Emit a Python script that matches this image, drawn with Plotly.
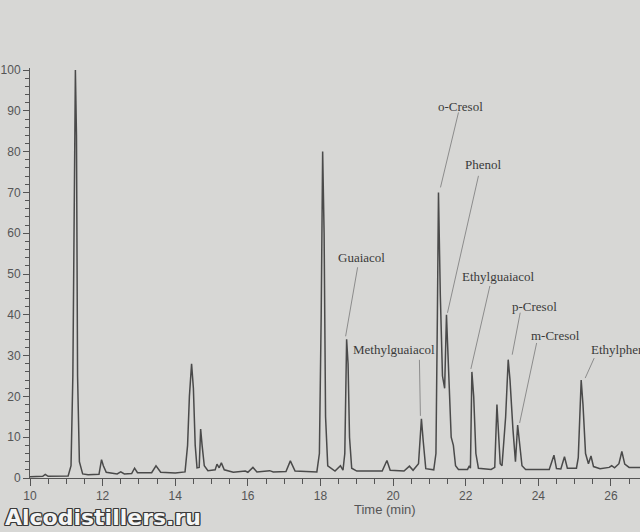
import plotly.graph_objects as go

# ---- data ----
time_min = [10.0, 10.35, 10.42, 10.5, 11.05, 11.13, 11.18, 11.22, 11.25, 11.28, 11.31, 11.36, 11.45, 11.6,
            11.9, 11.97, 12.02, 12.1, 12.4, 12.5, 12.6, 12.8, 12.88, 12.96, 13.35, 13.47, 13.6, 14.0,
            14.27, 14.34, 14.39, 14.45, 14.5, 14.55, 14.6, 14.66, 14.7, 14.74, 14.8, 14.9, 15.1, 15.15,
            15.21, 15.27, 15.35, 15.6, 15.93, 16.0, 16.14, 16.25, 16.6, 16.7, 17.05, 17.17, 17.3, 17.9,
            17.97, 18.02, 18.06, 18.1, 18.14, 18.2, 18.4, 18.55, 18.62, 18.67, 18.72, 18.76, 18.8, 18.86,
            19.0, 19.7, 19.83, 19.92, 20.3, 20.45, 20.55, 20.7, 20.78, 20.83, 20.9, 21.12, 21.18, 21.22,
            21.25, 21.3, 21.36, 21.42, 21.47, 21.5, 21.55, 21.6, 21.66, 21.72, 21.8, 22.05, 22.1, 22.13,
            22.17, 22.22, 22.28, 22.35, 22.7, 22.8, 22.86, 22.9, 22.95, 23.0, 23.1, 23.17, 23.22, 23.3,
            23.37, 23.43, 23.48, 23.55, 23.65, 24.3, 24.43, 24.5, 24.62, 24.72, 24.8, 25.05, 25.1, 25.18,
            25.23, 25.3, 25.38, 25.45, 25.52, 25.7, 25.95, 26.02, 26.1, 26.22, 26.3, 26.38, 26.5, 26.8]
signal = [0.3, 0.4, 0.9, 0.4, 0.5, 3, 25, 65, 100, 84, 25, 4, 1.0, 0.8,
          0.9, 4.5, 3.0, 1.4, 1.0, 1.5, 1.0, 1.1, 2.4, 1.3, 1.3, 3.0, 1.4, 1.2,
          1.5, 8, 20, 28, 22, 8, 2.5, 2.6, 12, 8, 3, 1.8, 2.0, 3.4,
          2.5, 3.7, 2.0, 1.4, 1.7, 1.4, 2.6, 1.5, 1.8, 1.5, 1.6, 4.2, 1.7, 1.5,
          6, 40, 80, 60, 15, 3, 1.7, 3.0, 1.9, 6, 34, 28, 10, 2.4,
          1.7, 1.7, 4.3, 1.9, 1.7, 2.9, 1.9, 3.5, 14.5, 9, 2.3, 2.0, 6, 40,
          70, 45, 25, 22, 40, 33, 22, 10, 8, 3, 2.1, 2.1, 3, 2.4,
          26, 20, 6, 2.4, 2.1, 2.6, 18, 12, 3.5, 3, 15, 29, 24, 12,
          4, 13, 9, 3, 2.1, 2.1, 5.6, 2.3, 2.2, 5.2, 2.4, 2.4, 5, 24,
          18, 6, 3.5, 5.4, 2.8, 2.3, 2.6, 3.0, 2.5, 3.5, 6.5, 3.4, 2.6, 2.6]

compound_names = ["Guaiacol", "Methylguaiacol", "o-Cresol", "Phenol",
                  "Ethylguaiacol", "p-Cresol", "m-Cresol", "Ethylphenol"]
compound_times = [18.72, 20.78, 21.25, 21.47, 22.17, 23.17, 23.43, 25.18]

x_ticks = [10, 12, 14, 16, 18, 20, 22, 24, 26]
y_ticks = [0, 10, 20, 30, 40, 50, 60, 70, 80, 90, 100]

# ---- label placement (pixel offsets from the peak apex, screen y down) ----
label_style = [
    # text dx, dy, xanchor, line start dx, dy, line end dx, dy
    (15, -82, "center", 11, -72, -1, -3),
    (-27, -69, "center", -2, -59, -1, -3),
    (22, -86, "center", 20, -80, 2, -5),
    (37, -150, "center", 32, -139, 1, -2),
    (27, -95, "center", 18, -86, -1, -3),
    (26, -53, "center", 12, -47, 4, -5),
    (38, -89, "center", 19, -82, 2, -2),
    (8, -31, "left", 13, -22, 4, -2),
]

BG = "#d7d7d5"
INK = "#4a4a4a"

fig = go.Figure()
fig.add_trace(go.Scatter(x=time_min, y=signal, mode="lines",
                         line=dict(color=INK, width=1.5), hoverinfo="skip",
                         showlegend=False))

annotations = []
shapes = []
for name, t, st in zip(compound_names, compound_times, label_style):
    h = signal[time_min.index(t)]
    tdx, tdy, anchor, lx0, ly0, lx1, ly1 = st
    annotations.append(dict(x=t, y=h, xref="x", yref="y", text=name, showarrow=False,
                            xshift=tdx, yshift=-tdy, xanchor=anchor, yanchor="middle",
                            font=dict(family="Liberation Serif", size=13, color="#3a3a3a")))
    shapes.append(dict(type="line", xref="x", yref="y", xsizemode="pixel", ysizemode="pixel",
                       xanchor=t, yanchor=h, x0=lx0, y0=-ly0, x1=lx1, y1=-ly1,
                       line=dict(color="#8c8c8c", width=1)))

# axis title
annotations.append(dict(x=0.582, y=-0.078, xref="paper", yref="paper", text="Time (min)",
                        showarrow=False, xanchor="center", yanchor="middle",
                        font=dict(family="Liberation Sans", size=13, color="#555555")))

# watermark with dark outline
wm = "<b>Alcodistillers.ru</b>"
wx, wy = -0.045, -0.097
outline = ("1.2px 0 0 #3a3a3a, -1.2px 0 0 #3a3a3a, 0 1.2px 0 #3a3a3a, 0 -1.2px 0 #3a3a3a, "
           "1px 1px 0 #3a3a3a, -1px -1px 0 #3a3a3a, 1px -1px 0 #3a3a3a, -1px 1px 0 #3a3a3a")
try:
    go.layout.Annotation(font=dict(shadow=outline))
    annotations.append(dict(x=wx, y=wy, xref="paper", yref="paper", text=wm, showarrow=False,
                            xanchor="left", yanchor="middle",
                            font=dict(family="DejaVu Sans", size=22, color="#f4f4f4",
                                      shadow=outline)))
except Exception:
    for ox, oy in [(-1.3, 0), (1.3, 0), (0, 1.3), (0, -1.3), (-1, -1), (1, 1), (-1, 1), (1, -1)]:
        annotations.append(dict(x=wx, y=wy, xref="paper", yref="paper", text=wm, showarrow=False,
                                xanchor="left", yanchor="middle", xshift=ox, yshift=oy,
                                font=dict(family="DejaVu Sans", size=22, color="#3a3a3a")))
    annotations.append(dict(x=wx, y=wy, xref="paper", yref="paper", text=wm, showarrow=False,
                            xanchor="left", yanchor="middle",
                            font=dict(family="DejaVu Sans", size=22, color="#f4f4f4")))

fig.update_layout(
    width=640, height=532,
    margin=dict(l=30, r=0, t=68, b=54),
    paper_bgcolor=BG, plot_bgcolor=BG,
    annotations=annotations, shapes=shapes,
    xaxis=dict(range=[10, 26.8], tickvals=x_ticks, ticks="outside", ticklen=7, tickwidth=1,
               tickcolor="#555555", showline=True, linecolor="#555555", linewidth=1,
               showgrid=False, zeroline=False,
               minor=dict(dtick=0.5, tick0=10, ticks="outside", ticklen=5, tickcolor="#555555",
                          showgrid=False),
               tickfont=dict(family="Liberation Sans", size=12, color="#555555")),
    yaxis=dict(range=[0, 100.5], tickvals=y_ticks, ticks="outside", ticklen=6, tickwidth=1,
               tickcolor="#555555", showline=True, linecolor="#555555", linewidth=1,
               showgrid=False, zeroline=False,
               minor=dict(dtick=2, tick0=0, ticks="outside", ticklen=4, tickcolor="#555555",
                          showgrid=False),
               tickfont=dict(family="Liberation Sans", size=12, color="#555555")),
)

fig.write_html("out.html", config={"displayModeBar": False},
               post_script="document.body.style.margin='0';document.body.style.background='%s';" % BG)
